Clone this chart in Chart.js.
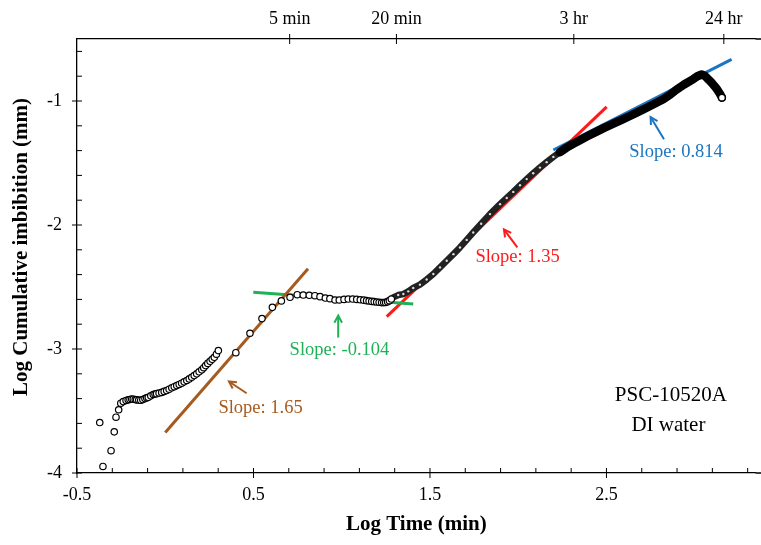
<!DOCTYPE html>
<html>
<head>
<meta charset="utf-8">
<title>Log cumulative imbibition vs log time</title>
<script src="https://cdn.jsdelivr.net/npm/chart.js@4.4.1/dist/chart.umd.min.js"></script>
<style>
  html, body { margin: 0; padding: 0; background: #fff; }
  canvas { display: block; }
</style>
</head>
<body>
<canvas id="imbChart" width="761" height="545"></canvas>
<script>
// ---- data (log min, log mm) ----
const earlyX = [-0.371, -0.353, -0.307, -0.289, -0.279, -0.264, -0.252, -0.238, -0.222, -0.210, -0.200, -0.190,
  -0.181, -0.170, -0.162, -0.150, -0.139, -0.127, -0.115, -0.105, -0.096, -0.082, -0.068, -0.058, -0.049, -0.035,
  -0.020, -0.006, 0.008, 0.022, 0.037, 0.051, 0.065, 0.079, 0.093, 0.107, 0.122, 0.136, 0.150, 0.164, 0.178,
  0.192, 0.207, 0.218, 0.229, 0.241, 0.254, 0.266, 0.278, 0.290, 0.301];
const earlyY = [-3.593, -3.947, -3.820, -3.668, -3.550, -3.490, -3.437, -3.424, -3.415, -3.410, -3.407, -3.404,
  -3.405, -3.408, -3.410, -3.412, -3.413, -3.408, -3.400, -3.394, -3.390, -3.378, -3.367, -3.363, -3.360, -3.355,
  -3.350, -3.342, -3.335, -3.324, -3.313, -3.304, -3.295, -3.286, -3.276, -3.265, -3.254, -3.241, -3.228, -3.214,
  -3.200, -3.184, -3.168, -3.151, -3.134, -3.116, -3.099, -3.083, -3.067, -3.042, -3.013];

const plateauX = [0.400, 0.480, 0.548, 0.607, 0.658, 0.707, 0.748, 0.782, 0.816, 0.848, 0.877, 0.907, 0.933, 0.962,
  0.986, 1.013, 1.037, 1.062, 1.085, 1.105, 1.125, 1.141, 1.155, 1.170, 1.184, 1.198, 1.212, 1.226, 1.238, 1.249,
  1.260, 1.270, 1.281];
const plateauY = [-3.030, -2.873, -2.755, -2.664, -2.612, -2.583, -2.562, -2.565, -2.567, -2.570, -2.578, -2.589,
  -2.594, -2.605, -2.605, -2.600, -2.597, -2.597, -2.600, -2.603, -2.606, -2.610, -2.613, -2.616, -2.618, -2.621,
  -2.623, -2.626, -2.626, -2.624, -2.618, -2.610, -2.597];

// dense part of the record, shows up as a thick band
const denseX = [1.292, 1.320, 1.349, 1.377, 1.405, 1.443, 1.481, 1.519, 1.557, 1.595, 1.633, 1.670, 1.708, 1.745,
  1.790, 1.840, 1.897, 1.935, 1.972, 2.010, 2.048, 2.085, 2.123, 2.161, 2.199, 2.236, 2.274, 2.312, 2.350, 2.397,
  2.444, 2.490, 2.539, 2.586, 2.633, 2.680, 2.728, 2.775, 2.822, 2.860, 2.894, 2.940, 2.992, 3.015, 3.039, 3.055,
  3.068, 3.082, 3.096, 3.108, 3.120, 3.130, 3.139, 3.147, 3.154];
const denseY = [-2.584, -2.565, -2.557, -2.535, -2.508, -2.481, -2.440, -2.395, -2.342, -2.288, -2.235, -2.181,
  -2.120, -2.060, -1.990, -1.912, -1.832, -1.782, -1.733, -1.680, -1.630, -1.583, -1.537, -1.493, -1.451, -1.413,
  -1.376, -1.345, -1.316, -1.281, -1.247, -1.215, -1.183, -1.152, -1.121, -1.088, -1.054, -1.020, -0.986, -0.950,
  -0.911, -0.867, -0.823, -0.800, -0.786, -0.795, -0.812, -0.832, -0.853, -0.873, -0.893, -0.913, -0.933, -0.953,
  -0.973];

// fitted slope lines, two end points each
const fitBrownX = [0.000, 0.809];   const fitBrownY = [-3.673, -2.353];
const fitGreenX = [0.499, 1.405];   const fitGreenY = [-2.543, -2.637];
const fitRedX   = [1.255, 2.501];   const fitRedY   = [-2.739, -1.048];
const fitBlueX  = [2.199, 3.209];   const fitBlueY  = [-1.395, -0.664];

// axes
const xMajor = [-0.5, 0.5, 1.5, 2.5];
const xMinor = [-0.3, -0.1, 0.1, 0.3, 0.7, 0.9, 1.1, 1.3, 1.7, 1.9, 2.1, 2.3, 2.7, 2.9, 3.1, 3.3];
const yMajor = [-4, -3, -2, -1];
const yMinor = [-3.8, -3.6, -3.4, -3.2, -2.8, -2.6, -2.4, -2.2, -1.8, -1.6, -1.4, -1.2, -0.8, -0.6];
const topVals = [0.705, 1.310, 2.315, 3.165];
const topLabels = ["5 min", "20 min", "3 hr", "24 hr"];

const xMin = -0.5, xMax = 3.345, yMin = -4, yMax = -0.5;

// annotations (data coords)
const notes = [
  { text: "Slope: 1.65",   x: 0.54,  y: -3.48,  color: "#A65A1E", arrow: [0.461, -3.357, 0.361, -3.262] },
  { text: "Slope: -0.104", x: 0.987, y: -3.013, color: "#1FB155", arrow: [0.980, -2.908, 0.980, -2.731] },
  { text: "Slope: 1.35",   x: 1.996, y: -2.256, color: "#FF1A1A", arrow: [1.995, -2.181, 1.919, -2.036] },
  { text: "Slope: 0.814",  x: 2.894, y: -1.416, color: "#1B75C0", arrow: [2.826, -1.308, 2.750, -1.129] },
  { text: "PSC-10520A",    x: 2.865, y: -3.375, color: "#000" },
  { text: "DI water",      x: 2.851, y: -3.617, color: "#000" }
];

const SERIF = '"Liberation Serif", "Times New Roman", serif';

function pts(xs, ys) {
  return xs.map((v, i) => ({ x: v, y: ys[i] }));
}

function drawArrow(ctx, x1, y1, x2, y2, color) {
  ctx.strokeStyle = color;
  ctx.lineWidth = 2;
  ctx.beginPath();
  ctx.moveTo(x1, y1);
  ctx.lineTo(x2, y2);
  ctx.stroke();
  const ang = Math.atan2(y2 - y1, x2 - x1), h = 8;
  ctx.beginPath();
  ctx.moveTo(x2 - h * Math.cos(ang - 0.5), y2 - h * Math.sin(ang - 0.5));
  ctx.lineTo(x2, y2);
  ctx.lineTo(x2 - h * Math.cos(ang + 0.5), y2 - h * Math.sin(ang + 0.5));
  ctx.stroke();
}

// tick marks, axis title, arrows and text labels
const decor = {
  id: "decor",
  afterDraw(chart) {
    const { ctx, chartArea: a, scales } = chart;
    const x = scales.x, y = scales.y;
    ctx.save();
    ctx.strokeStyle = "#000";
    ctx.lineWidth = 1.3;
    ctx.beginPath();
    // frame runs on to the page edge
    ctx.moveTo(a.right, a.top); ctx.lineTo(chart.width, a.top);
    ctx.moveTo(a.right, a.bottom); ctx.lineTo(chart.width, a.bottom);
    ctx.stroke();

    ctx.lineWidth = 1;
    ctx.beginPath();
    xMinor.forEach(v => { const p = x.getPixelForValue(v); ctx.moveTo(p, a.bottom); ctx.lineTo(p, a.bottom - 5); });
    xMajor.forEach(v => { const p = x.getPixelForValue(v); ctx.moveTo(p, a.bottom + 5); ctx.lineTo(p, a.bottom - 5); });
    yMinor.forEach(v => { const p = y.getPixelForValue(v); ctx.moveTo(a.left, p); ctx.lineTo(a.left + 5, p); });
    yMajor.forEach(v => { const p = y.getPixelForValue(v); ctx.moveTo(a.left - 5, p); ctx.lineTo(a.left + 5, p); });
    topVals.forEach(v => { const p = x.getPixelForValue(v); ctx.moveTo(p, a.top - 5); ctx.lineTo(p, a.top + 5); });
    ctx.stroke();

    ctx.textAlign = "center";
    ctx.textBaseline = "middle";

    // y axis title
    ctx.save();
    ctx.translate(22, 247);
    ctx.rotate(-Math.PI / 2);
    ctx.fillStyle = "#000";
    ctx.font = "bold 21px " + SERIF;
    ctx.fillText("Log Cumulative imbibition (mm)", 0, 0);
    ctx.restore();

    notes.forEach(n => {
      if (n.arrow) {
        drawArrow(ctx, x.getPixelForValue(n.arrow[0]), y.getPixelForValue(n.arrow[1]),
          x.getPixelForValue(n.arrow[2]), y.getPixelForValue(n.arrow[3]), n.color);
      }
      ctx.fillStyle = n.color;
      ctx.font = (n.arrow ? "18.5px " : "21px ") + SERIF;
      ctx.fillText(n.text, x.getPixelForValue(n.x), y.getPixelForValue(n.y));
    });
    ctx.restore();
  }
};

const circle = {
  showLine: false,
  pointRadius: 3.2,
  pointBorderWidth: 1.2,
  pointBorderColor: "#000",
  pointBackgroundColor: "#fff"
};

function fitLine(xs, ys, color) {
  return {
    data: pts(xs, ys),
    showLine: true,
    borderColor: color,
    borderWidth: 3,
    pointRadius: 0
  };
}

new Chart(document.getElementById("imbChart"), {
  type: "scatter",
  data: {
    datasets: [
      Object.assign({ data: pts(earlyX, earlyY) }, circle),
      Object.assign({ data: pts(plateauX, plateauY) }, circle),
      {
        data: pts(denseX, denseY),
        showLine: true,
        borderColor: "#000",
        borderWidth: 7,
        borderJoinStyle: "round",
        borderCapStyle: "round",
        segment: {
          borderColor: c => (c.p0.parsed.x < 2.2 ? "#222" : "#000"),
          borderWidth: c => (c.p0.parsed.x < 2.2 ? 6.5 : 8.5)
        },
        pointRadius: ctx => {
          if (ctx.dataIndex === denseX.length - 1) return 3.4;
          return denseX[ctx.dataIndex] < 2.2 ? 1.2 : 0;
        },
        pointBorderWidth: ctx => (ctx.dataIndex === denseX.length - 1 ? 1.4 : 0),
        pointBorderColor: "#000",
        pointBackgroundColor: ctx => (ctx.dataIndex === denseX.length - 1 ? "#fff" : "#ddd")
      },
      fitLine(fitBrownX, fitBrownY, "#A65A1E"),
      fitLine(fitGreenX, fitGreenY, "#1FB155"),
      fitLine(fitRedX, fitRedY, "#FF1A1A"),
      fitLine(fitBlueX, fitBlueY, "#1B75C0")
    ]
  },
  options: {
    responsive: false,
    animation: false,
    events: [],
    layout: { padding: 0 },
    plugins: { legend: { display: false }, tooltip: { enabled: false } },
    scales: {
      x: {
        type: "linear",
        position: "bottom",
        min: xMin, max: xMax,
        afterBuildTicks: s => { s.ticks = xMajor.map(v => ({ value: v })); },
        afterFit: s => { s.height = 72; },
        grid: { display: false, drawTicks: false },
        border: { display: true, color: "#000", width: 1.3 },
        ticks: {
          autoSkip: false, maxRotation: 0, padding: 11, color: "#000",
          font: { family: SERIF, size: 18 },
          callback: v => v.toFixed(1)
        },
        title: {
          display: true, text: "Log Time (min)", color: "#000",
          font: { family: SERIF, size: 21, weight: "bold" },
          padding: { top: 0, bottom: 8 }
        }
      },
      top: {
        type: "linear",
        position: "top",
        min: xMin, max: xMax,
        afterBuildTicks: s => { s.ticks = topVals.map(v => ({ value: v })); },
        afterFit: s => { s.height = 39; },
        grid: { display: false, drawTicks: false },
        border: { display: true, color: "#000", width: 1.3 },
        ticks: {
          autoSkip: false, maxRotation: 0, padding: 9, color: "#000",
          font: { family: SERIF, size: 18 },
          callback: v => topLabels[topVals.indexOf(v)]
        }
      },
      y: {
        type: "linear",
        min: yMin, max: yMax,
        afterBuildTicks: s => { s.ticks = yMajor.map(v => ({ value: v })); },
        afterFit: s => { s.width = 77; },
        grid: { display: false, drawTicks: false },
        border: { display: true, color: "#000", width: 1.3 },
        ticks: {
          autoSkip: false, padding: 15, color: "#000",
          font: { family: SERIF, size: 18 },
          callback: v => String(v)
        }
      }
    }
  },
  plugins: [decor]
});
</script>
</body>
</html>
